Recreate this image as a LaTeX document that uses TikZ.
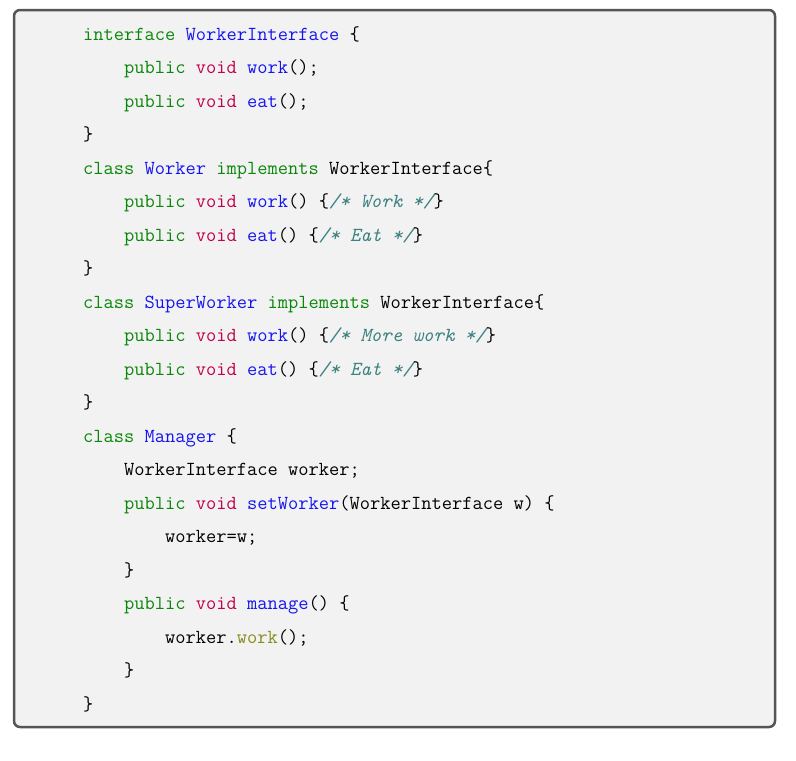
\documentclass[tikz,border=0pt]{standalone}
\definecolor{kwc}{RGB}{10,135,10}
\definecolor{voc}{RGB}{195,0,75}
\definecolor{nmc}{RGB}{20,20,240}
\definecolor{cmc}{RGB}{60,130,130}
\definecolor{olc}{RGB}{135,140,30}
\definecolor{bgc}{RGB}{242,242,242}
\definecolor{bdc}{RGB}{85,85,85}
\newcommand{\cKw}[1]{\textcolor{kwc}{#1}}
\newcommand{\cVo}[1]{\textcolor{voc}{#1}}
\newcommand{\cNm}[1]{\textcolor{nmc}{#1}}
\newcommand{\cCm}[1]{\textcolor{cmc}{\itshape #1}}
\newcommand{\cOl}[1]{\textcolor{olc}{#1}}
\begin{document}
\begin{tikzpicture}[x=1pt,y=-1pt,
  codeline/.style={anchor=mid west,inner sep=0pt,font=\ttfamily\fontsize{19.9}{20}\selectfont}]
\useasboundingbox (0,0) rectangle (796,761);
\draw[bdc,line width=2.5pt,fill=bgc,rounded corners=6pt] (14,10) rectangle (775,727);
\def\ind{41}
\foreach \i/\lv/\txt in {
 0/0/{\cKw{interface} \cNm{WorkerInterface} \{},
 1/1/{\cKw{public} \cVo{void} \cNm{work}();},
 2/1/{\cKw{public} \cVo{void} \cNm{eat}();},
 3/0/{\}},
 4/0/{\cKw{class} \cNm{Worker} \cKw{implements} WorkerInterface\{},
 5/1/{\cKw{public} \cVo{void} \cNm{work}() \{\cCm{/* Work */}\}},
 6/1/{\cKw{public} \cVo{void} \cNm{eat}() \{\cCm{/* Eat */}\}},
 7/0/{\}},
 8/0/{\cKw{class} \cNm{SuperWorker} \cKw{implements} WorkerInterface\{},
 9/1/{\cKw{public} \cVo{void} \cNm{work}() \{\cCm{/* More work */}\}},
 10/1/{\cKw{public} \cVo{void} \cNm{eat}() \{\cCm{/* Eat */}\}},
 11/0/{\}},
 12/0/{\cKw{class} \cNm{Manager} \{},
 13/1/{WorkerInterface worker;},
 14/1/{\cKw{public} \cVo{void} \cNm{setWorker}(WorkerInterface w) \{},
 15/2/{worker=w;},
 16/1/{\}},
 17/1/{\cKw{public} \cVo{void} \cNm{manage}() \{},
 18/2/{worker.\cOl{work}();},
 19/1/{\}},
 20/0/{\}}}
 { \node[codeline] (l\i) at ({83+\lv*\ind},{38+\i*33.5}) {\txt}; }
\end{tikzpicture}
\end{document}
